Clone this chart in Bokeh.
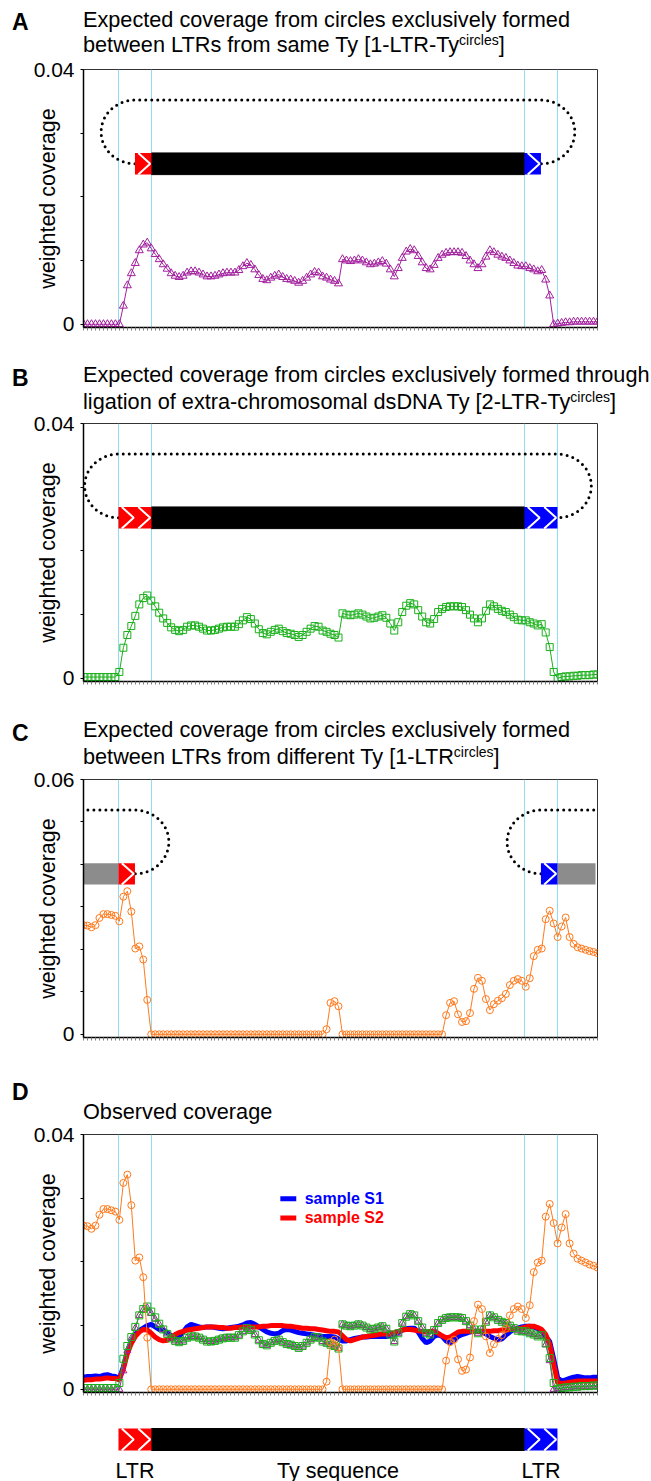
import numpy as np
from bokeh.plotting import figure
from bokeh.models import Range1d, FixedTicker, Label, Span, CustomJSTickFormatter, Div
from bokeh.layouts import column
from bokeh.embed import file_html
from bokeh.resources import INLINE

# ---------------- data (coverage values in units of 1e-3) ----------------
SCALE = 1e-3
positions = list(range(130))
ltr_bounds = [8.78, 17.06, 110.66, 118.95]

cov_1ltr_ty = [0, 0, 0, 0, 0, 0, 0, 0, 0, 0,
               2.9, 6.1, 8.0, 9.6, 11.6, 12.5, 12.8, 11.9, 11.0, 10.2,
               9.4, 8.7, 8.0, 7.6, 7.4, 7.6, 8.1, 8.3, 8.3, 8.1,
               7.8, 7.5, 7.5, 7.6, 7.8, 8.0, 8.1, 8.1, 8.1, 8.5,
               9.1, 9.6, 9.3, 8.6, 7.7, 7.1, 6.9, 7.3, 7.6, 7.8,
               7.4, 7.1, 7.0, 6.8, 6.5, 6.8, 7.3, 7.8, 8.2, 8.1,
               7.5, 7.3, 7.0, 6.8, 6.4, 10.2, 10.0, 9.9, 10.0, 10.2,
               10.0, 9.7, 9.4, 9.5, 9.7, 9.9, 9.5, 8.6, 7.5, 8.8,
               10.4, 11.4, 11.8, 11.6, 10.7, 9.7, 8.8, 8.6, 9.3, 10.4,
               10.9, 11.2, 11.3, 11.3, 11.3, 11.2, 10.7, 10.0, 9.4, 8.8,
               9.4, 10.6, 11.6, 11.3, 10.9, 10.6, 10.4, 10.0, 9.6, 9.2,
               9.1, 9.1, 8.8, 8.6, 8.3, 8.5, 7.0, 4.5, 0.0, 0.1,
               0.2, 0.3, 0.3, 0.4, 0.4, 0.4, 0.4, 0.4, 0.4, 0.4]

cov_2ltr_ty = [0.2, 0.2, 0.2, 0.2, 0.2, 0.2, 0.2, 0.2, 0.2, 1.0,
               4.8, 6.8, 8.2, 9.8, 11.6, 12.6, 13.0, 12.2, 11.3, 10.3,
               9.4, 8.7, 8.0, 7.6, 7.4, 7.6, 8.1, 8.3, 8.3, 8.1,
               7.8, 7.5, 7.5, 7.6, 7.8, 8.0, 8.1, 8.1, 8.1, 8.5,
               9.1, 9.6, 9.3, 8.6, 7.7, 7.1, 6.9, 7.3, 7.6, 7.8,
               7.4, 7.1, 7.0, 6.8, 6.5, 6.8, 7.3, 7.8, 8.2, 8.1,
               7.5, 7.3, 7.0, 6.8, 6.4, 10.2, 10.0, 9.9, 10.0, 10.2,
               10.0, 9.7, 9.4, 9.5, 9.7, 9.9, 9.5, 8.6, 7.5, 8.8,
               10.4, 11.4, 11.8, 11.6, 10.7, 9.7, 8.8, 8.6, 9.3, 10.4,
               10.9, 11.2, 11.3, 11.3, 11.3, 11.2, 10.7, 10.0, 9.4, 8.8,
               9.4, 10.6, 11.6, 11.3, 10.9, 10.6, 10.4, 10.0, 9.6, 9.2,
               9.1, 9.1, 8.8, 8.6, 8.3, 8.5, 7.2, 4.9, 1.0, 0.0,
               0.2, 0.3, 0.3, 0.4, 0.4, 0.5, 0.5, 0.5, 0.6, 0.6]

cov_1ltr = [25.7, 25.6, 25.2, 25.7, 27.4, 28.3, 28.3, 28.1, 27.9, 26.6,
            32.4, 33.7, 28.9, 20.2, 20.7, 17.6, 8.1, 0, 0, 0,
            0, 0, 0, 0, 0, 0, 0, 0, 0, 0,
            0, 0, 0, 0, 0, 0, 0, 0, 0, 0,
            0, 0, 0, 0, 0, 0, 0, 0, 0, 0,
            0, 0, 0, 0, 0, 0, 0, 0, 0, 0,
            0, 1.2, 7.4, 7.8, 6.6, 0, 0, 0, 0, 0,
            0, 0, 0, 0, 0, 0, 0, 0, 0, 0,
            0, 0, 0, 0, 0, 0, 0, 0, 0, 0,
            0, 4.5, 7.4, 7.8, 4.7, 2.9, 3.1, 5.0, 10.7, 13.3,
            12.6, 8.3, 5.7, 7.1, 7.9, 8.5, 9.5, 11.6, 12.6, 13.0,
            12.6, 11.2, 13.2, 18.4, 19.9, 20.2, 27.1, 29.1, 26.1, 22.9,
            25.4, 27.5, 22.9, 21.3, 20.5, 20.2, 19.9, 19.6, 19.4, 19.1]

sample_s1 = [1.9, 2.0, 2.0, 2.1, 2.0, 2.2, 2.3, 2.1, 2.0, 1.7,
             3.5, 6.0, 7.6, 8.6, 9.2, 9.6, 10.0, 10.2, 9.8, 9.4,
             9.3, 8.9, 8.4, 8.1, 8.3, 9.0, 9.8, 10.2, 10.0, 9.8,
             9.7, 9.8, 9.8, 9.7, 9.6, 9.5, 9.6, 9.7, 9.8, 9.9,
             10.1, 10.4, 10.5, 10.2, 9.8, 9.4, 9.0, 8.8, 8.7, 8.8,
             9.2, 9.4, 9.3, 9.1, 8.9, 8.8, 8.7, 8.6, 8.5, 8.4,
             8.3, 8.3, 8.3, 8.2, 7.9, 7.6, 7.6, 7.8, 8.0, 8.1,
             8.2, 8.2, 8.3, 8.3, 8.3, 8.3, 8.3, 8.4, 8.6, 8.9,
             9.3, 9.5, 9.6, 9.6, 9.0, 8.0, 7.3, 7.6, 8.3, 8.6,
             8.3, 7.6, 7.3, 7.7, 8.3, 8.6, 8.8, 9.0, 9.1, 9.1,
             9.0, 8.7, 8.3, 8.0, 7.8, 7.9, 8.5, 9.0, 9.4, 9.6,
             9.8, 9.9, 9.9, 9.8, 9.5, 9.1, 8.3, 7.5, 4.8, 1.8,
             1.3, 1.5, 1.7, 1.9, 2.0, 1.9, 1.8, 1.8, 1.9, 1.9]

sample_s2 = [1.4, 1.5, 1.5, 1.6, 1.6, 1.7, 1.8, 1.7, 1.7, 1.5,
             3.2, 5.6, 7.2, 8.3, 9.0, 9.4, 9.3, 8.8, 8.2, 7.8,
             7.6, 7.7, 8.2, 8.6, 8.9, 9.1, 9.3, 9.4, 9.5, 9.6,
             9.7, 9.8, 9.8, 9.8, 9.7, 9.7, 9.6, 9.6, 9.7, 9.7,
             9.8, 9.8, 9.8, 9.8, 9.8, 9.9, 9.9, 10.0, 10.0, 10.0,
             10.0, 9.9, 9.9, 9.8, 9.7, 9.6, 9.6, 9.5, 9.5, 9.4,
             9.3, 9.2, 9.1, 9.1, 9.0, 8.4, 7.8, 7.6, 7.8, 8.0,
             8.2, 8.3, 8.4, 8.5, 8.6, 8.7, 8.7, 8.8, 8.9, 9.1,
             9.3, 9.4, 9.4, 9.3, 9.2, 9.1, 9.0, 9.1, 9.1, 8.8,
             8.4, 8.1, 8.2, 8.6, 9.0, 9.1, 9.1, 9.1, 9.1, 9.1,
             9.1, 9.1, 9.1, 9.2, 9.2, 9.3, 9.3, 9.4, 9.4, 9.5,
             9.6, 9.8, 9.9, 9.9, 9.7, 9.4, 8.6, 7.0, 4.0, 1.0,
             0.9, 1.0, 1.1, 1.2, 1.3, 1.3, 1.3, 1.3, 1.3, 1.3]

legend_labels = ["sample S1", "sample S2"]
panel_titles = {
    "A": ["Expected coverage from circles exclusively formed",
          ("between LTRs from same Ty [1-LTR-Ty", "circles", "]")],
    "B": ["Expected coverage from circles exclusively formed through",
          ("ligation of extra-chromosomal dsDNA Ty [2-LTR-Ty", "circles", "]")],
    "C": ["Expected coverage from circles exclusively formed",
          ("between LTRs from different Ty [1-LTR", "circles", "]")],
    "D": ["Observed coverage"],
}

# ---------------- styling ----------------
FONT = "Liberation Sans"
PURPLE = "#a21f9e"
GREEN = "#19b019"
ORANGE = "#ff7a1c"
CYAN = "#8edcf2"
RED = "#ff0000"
BLUE = "#0000ff"
GRAY = "#8c8c8c"
FW, FH = 514, 258
LEFT, RIGHT = 83, 54
TOTAL_W = LEFT + FW + RIGHT
TS = 21.7  # title font size
TOP = 13   # figure top border (room for the top tick label)


def txt(p, x, y, s, size, color="black", bold=False, align="left", baseline="middle"):
    p.add_layout(Label(x=x, y=y, x_units="data", y_units="data", text=s,
                       text_font=FONT, text_font_size=f"{size}px", text_color=color,
                       text_font_style="bold" if bold else "normal",
                       text_align=align, text_baseline=baseline))


def header(letter, letter_top, lines, line_tops, height):
    parts = [f'<span style="position:absolute;left:12px;top:{letter_top}px;'
             f'font-weight:bold;font-size:23px;">{letter}</span>']
    for item, top in zip(lines, line_tops):
        if isinstance(item, tuple):
            main, sup, tail = item
            html = (f'{main}<span style="position:relative;top:-7px;font-size:14px;">'
                    f'{sup}</span>{tail}')
        else:
            html = item
        parts.append(f'<span style="position:absolute;left:{LEFT}px;top:{top}px;'
                     f'white-space:nowrap;">{html}</span>')
    text = (f'<div style="position:relative;width:{TOTAL_W}px;height:{height}px;overflow:visible;'
            f"font-family:'{FONT}',Arial,sans-serif;font-size:{TS}px;line-height:1;"
            f'color:black;">' + "".join(parts) + "</div>")
    return Div(text=text, width=TOTAL_W, height=height, margin=(0, 0, 0, 0),
               styles={"overflow": "visible", "z-index": "10", "position": "relative"})


def make_fig(ymax, bottom):
    p = figure(frame_width=FW, frame_height=FH, min_border_left=LEFT, min_border_right=RIGHT,
               min_border_top=TOP, min_border_bottom=bottom,
               x_range=Range1d(0, 129), y_range=Range1d(-ymax / 80.0, ymax),
               output_backend="svg", toolbar_location=None, tools="")
    p.grid.visible = False
    p.border_fill_alpha = 0
    p.outline_line_color = "#333333"
    p.outline_line_width = 1
    xa = p.xaxis[0]
    xa.ticker = FixedTicker(ticks=[], minor_ticks=positions)
    xa.minor_tick_out = 3
    xa.minor_tick_in = 0
    xa.major_tick_out = 0
    xa.major_tick_in = 0
    xa.minor_tick_line_color = "#808080"
    xa.axis_line_width = 1.5
    xa.axis_line_color = "black"
    xa.major_label_standoff = 0
    ya = p.yaxis[0]
    nminor = int(round(ymax * 100))
    ya.ticker = FixedTicker(ticks=[0, ymax], minor_ticks=[k / 100.0 for k in range(1, nminor)])
    ya.formatter = CustomJSTickFormatter(code="return tick == 0 ? '0' : tick.toFixed(2);")
    ya.major_label_text_font = FONT
    ya.major_label_text_font_size = "21px"
    ya.major_label_text_color = "black"
    ya.major_tick_out = 3
    ya.major_tick_in = 0
    ya.minor_tick_out = 3
    ya.minor_tick_in = 0
    ya.major_label_standoff = 6
    ya.axis_line_width = 1.5
    ya.axis_line_color = "black"
    ya.axis_label = "weighted coverage"
    ya.axis_label_text_font = FONT
    ya.axis_label_text_font_size = "21.5px"
    ya.axis_label_text_font_style = "normal"
    ya.axis_label_text_color = "black"
    ya.axis_label_standoff = -29
    for b in ltr_bounds:
        p.add_layout(Span(location=b, dimension="height", line_color=CYAN,
                          line_width=1, level="underlay"))
    return p


def chevrons(p, units, lo, hi):
    xs, ys = [], []
    for xl, xr in units:
        w = xr - xl
        xs.append([xl + 0.2 * w, xr - 0.08 * w, xl + 0.2 * w])
        ys.append([hi, (lo + hi) / 2.0, lo])
    p.multi_line(xs, ys, line_color="white", line_width=2)


def arc(cx, cy, rx, ry, a0, a1, n=60):
    t = np.linspace(a0, a1, n)
    return list(cx + rx * np.cos(t)), list(cy + ry * np.sin(t))


def dotted(p, xs, ys):
    p.line(xs, [v * SCALE for v in ys], line_color="black", line_width=3,
           line_dash="0 6", line_cap="round")


mid0 = (ltr_bounds[0] + ltr_bounds[1]) / 2.0
mid1 = (ltr_bounds[2] + ltr_bounds[3]) / 2.0
x = positions

# ---------------- panel A ----------------
hA = header("A", 11, panel_titles["A"], [9, 34], 69 - TOP)
pA = make_fig(0.04, 25)
lo, hi = 23.5 * SCALE, 26.9 * SCALE
ax1, ay1 = arc(mid0, 30.2, 8.5, 5.0, 1.5 * np.pi, 0.5 * np.pi)
ax2, ay2 = arc(mid1, 30.2, 8.5, 5.0, 0.5 * np.pi, -0.5 * np.pi)
dotted(pA, ax1 + ax2, ay1 + ay2)
pA.quad(left=[ltr_bounds[1]], right=[ltr_bounds[2]], bottom=[lo], top=[hi], color="black")
pA.quad(left=[mid0], right=[ltr_bounds[1]], bottom=[lo], top=[hi], fill_color=RED, line_color=None)
pA.quad(left=[ltr_bounds[2]], right=[mid1], bottom=[lo], top=[hi], fill_color=BLUE, line_color=None)
chevrons(pA, [(mid0, ltr_bounds[1]), (ltr_bounds[2], mid1)], lo, hi)
yA = [v * SCALE for v in cov_1ltr_ty]
pA.line(x, yA, line_color=PURPLE, line_width=1)
pA.scatter(x, yA, marker="triangle", size=8, line_color=PURPLE, fill_alpha=0, line_width=1)

# ---------------- panel B ----------------
hB = header("B", 15, panel_titles["B"], [12, 39], 71 - TOP)
pB = make_fig(0.04, 29)
bx1, by1 = arc(ltr_bounds[0], 30.2, 8.5, 5.0, 1.5 * np.pi, 0.5 * np.pi)
bx2, by2 = arc(ltr_bounds[3], 30.2, 8.5, 5.0, 0.5 * np.pi, -0.5 * np.pi)
dotted(pB, bx1 + bx2, by1 + by2)
pB.quad(left=[ltr_bounds[1]], right=[ltr_bounds[2]], bottom=[lo], top=[hi], color="black")
pB.quad(left=[ltr_bounds[0]], right=[ltr_bounds[1]], bottom=[lo], top=[hi], fill_color=RED, line_color=None)
pB.quad(left=[ltr_bounds[2]], right=[ltr_bounds[3]], bottom=[lo], top=[hi], fill_color=BLUE, line_color=None)
chevrons(pB, [(ltr_bounds[0], mid0), (mid0, ltr_bounds[1]),
              (ltr_bounds[2], mid1), (mid1, ltr_bounds[3])], lo, hi)
yB = [v * SCALE for v in cov_2ltr_ty]
pB.line(x, yB, line_color=GREEN, line_width=1)
pB.scatter(x, yB, marker="square", size=7, line_color=GREEN, fill_alpha=0, line_width=1)

# ---------------- panel C ----------------
hC = header("C", 12, panel_titles["C"], [9, 36], 69 - TOP)
pC = make_fig(0.06, 25)
clo, chi = 35.3 * SCALE, 40.3 * SCALE
cx1, cy1 = arc(mid0, 45.3, 8.5, 7.5, 0.5 * np.pi, -0.5 * np.pi)
dotted(pC, [1.1] + cx1, [52.8] + cy1)
cx2, cy2 = arc(mid1, 45.3, 8.5, 7.5, 1.5 * np.pi, 0.5 * np.pi)
dotted(pC, cx2 + [128.4], cy2 + [52.8])
pC.quad(left=[0, ltr_bounds[3]], right=[ltr_bounds[0], 128.5], bottom=[clo, clo], top=[chi, chi],
        fill_color=GRAY, line_color=None)
pC.quad(left=[ltr_bounds[0]], right=[mid0], bottom=[clo], top=[chi], fill_color=RED, line_color=None)
pC.quad(left=[mid1], right=[ltr_bounds[3]], bottom=[clo], top=[chi], fill_color=BLUE, line_color=None)
chevrons(pC, [(ltr_bounds[0], mid0), (mid1, ltr_bounds[3])], clo, chi)
yC = [v * SCALE for v in cov_1ltr]
pC.line(x, yC, line_color=ORANGE, line_width=1)
pC.scatter(x, yC, marker="circle", size=7, line_color=ORANGE, fill_alpha=0, line_width=1)

# ---------------- panel D ----------------
hD = header("D", 19, panel_titles["D"], [39], 72 - TOP)
pD = make_fig(0.04, 8)
pD.line(x, [v * SCALE for v in sample_s1], line_color=BLUE, line_width=5)
pD.line(x, [v * SCALE for v in sample_s2], line_color=RED, line_width=5)
pD.line(x, yA, line_color=PURPLE, line_width=1)
pD.scatter(x, yA, marker="triangle", size=7, line_color=PURPLE, fill_alpha=0, line_width=1)
pD.line(x, yB, line_color=GREEN, line_width=1)
pD.scatter(x, yB, marker="square", size=7, line_color=GREEN, fill_alpha=0, line_width=1)
pD.line(x, yC, line_color=ORANGE, line_width=1)
pD.scatter(x, yC, marker="circle", size=7, line_color=ORANGE, fill_alpha=0, line_width=1)
for lab, col, ly in zip(legend_labels, [BLUE, RED], [29.9, 26.9]):
    pD.segment(x0=[49.4], y0=[ly * SCALE], x1=[53.4], y1=[ly * SCALE], line_color=col, line_width=5)
    txt(pD, 55.5, ly * SCALE, lab, 16, color=col, bold=True)

# ---------------- bottom schematic ----------------
pE = figure(frame_width=FW, frame_height=81, min_border_left=LEFT, min_border_right=RIGHT,
            min_border_top=0, min_border_bottom=0, x_range=Range1d(0, 129), y_range=Range1d(0, 81),
            x_axis_location=None, y_axis_location=None, output_backend="svg",
            toolbar_location=None, tools="")
pE.grid.visible = False
pE.outline_line_color = None
pE.quad(left=[ltr_bounds[1]], right=[ltr_bounds[2]], bottom=[31], top=[53], color="black")
pE.quad(left=[ltr_bounds[0]], right=[ltr_bounds[1]], bottom=[31], top=[53], fill_color=RED, line_color=None)
pE.quad(left=[ltr_bounds[2]], right=[ltr_bounds[3]], bottom=[31], top=[53], fill_color=BLUE, line_color=None)
chevrons(pE, [(ltr_bounds[0], mid0), (mid0, ltr_bounds[1]),
              (ltr_bounds[2], mid1), (mid1, ltr_bounds[3])], 31, 53)
txt(pE, mid0, 11, "LTR", 21.5, align="center")
txt(pE, (ltr_bounds[1] + ltr_bounds[2]) / 2.0, 11, "Ty sequence", 21.5, align="center")
txt(pE, mid1, 11, "LTR", 21.5, align="center")

layout = column(hA, pA, hB, pB, hC, pC, hD, pD, pE, spacing=0)
with open("out.html", "w", encoding="utf-8") as f:
    f.write(file_html(layout, INLINE))
